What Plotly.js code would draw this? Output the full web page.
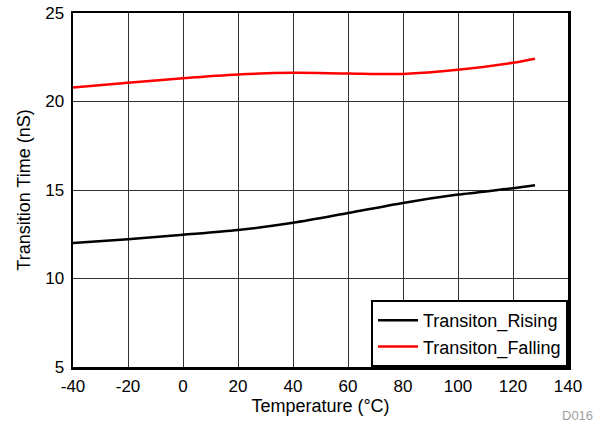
<!DOCTYPE html>
<html>
<head>
<meta charset="utf-8">
<script src="https://cdn.plot.ly/plotly-3.0.1.min.js"></script>
<style>html,body{margin:0;padding:0;background:#fff;}#chart{width:602px;height:422px;}</style>
</head>
<body>
<div id="chart"></div>
<script>
const temperature = [-40, -20, 0, 20, 40, 60, 80, 100, 120, 128];
const risingNs = [12.0, 12.22, 12.47, 12.74, 13.15, 13.7, 14.27, 14.74, 15.1, 15.27];
const fallingNs = [20.79, 21.06, 21.32, 21.53, 21.62, 21.58, 21.56, 21.79, 22.19, 22.42];
const seriesNames = ["Transiton_Rising", "Transiton_Falling"];
const xTicks = [-40, -20, 0, 20, 40, 60, 80, 100, 120, 140];
const yTicks = [5, 10, 15, 20, 25];

const fam = "Liberation Sans, Arial, sans-serif";
const tickFont = {family: fam, size: 17, color: "#000"};
const titleFont = {family: fam, size: 18, color: "#000"};
const traces = [
  {x: temperature, y: risingNs, name: seriesNames[0], mode: "lines",
   line: {color: "#000000", width: 2.5, shape: "spline", smoothing: 0.8}},
  {x: temperature, y: fallingNs, name: seriesNames[1], mode: "lines",
   line: {color: "#ff0000", width: 2.5, shape: "spline", smoothing: 0.8}}
];
const axisCommon = {
  showgrid: true, gridcolor: "#303030", gridwidth: 1,
  showline: true, linecolor: "#000", linewidth: 2.5, mirror: true,
  zeroline: false, ticks: "", tickfont: tickFont
};
const layout = {
  width: 602, height: 422,
  margin: {l: 73, r: 34, t: 13, b: 55},
  paper_bgcolor: "#fff", plot_bgcolor: "#fff",
  font: titleFont,
  showlegend: true,
  xaxis: Object.assign({}, axisCommon, {
    range: [-40, 140], tickvals: xTicks, ticktext: xTicks.map(String),
    ticklabelstandoff: 2,
    title: {text: "Temperature (°C)", font: titleFont, standoff: 2}
  }),
  yaxis: Object.assign({}, axisCommon, {
    range: [5, 25], tickvals: yTicks, ticktext: yTicks.map(String),
    ticklabelstandoff: 3,
    title: {text: "Transition Time (nS)", font: titleFont, standoff: 10}
  }),
  legend: {
    x: 1, y: 0, xanchor: "right", yanchor: "bottom",
    bgcolor: "#fff", bordercolor: "#000", borderwidth: 2,
    font: titleFont, itemwidth: 40, tracegroupgap: 0
  },
  annotations: [{
    text: "D016", xref: "paper", yref: "paper", x: 1.0545, y: -0.1356,
    xanchor: "right", yanchor: "middle", showarrow: false,
    font: {family: fam, size: 13, color: "#a0a0a0"}
  }]
};
Plotly.newPlot("chart", traces, layout, {displayModeBar: false, staticPlot: true});
</script>
</body>
</html>
